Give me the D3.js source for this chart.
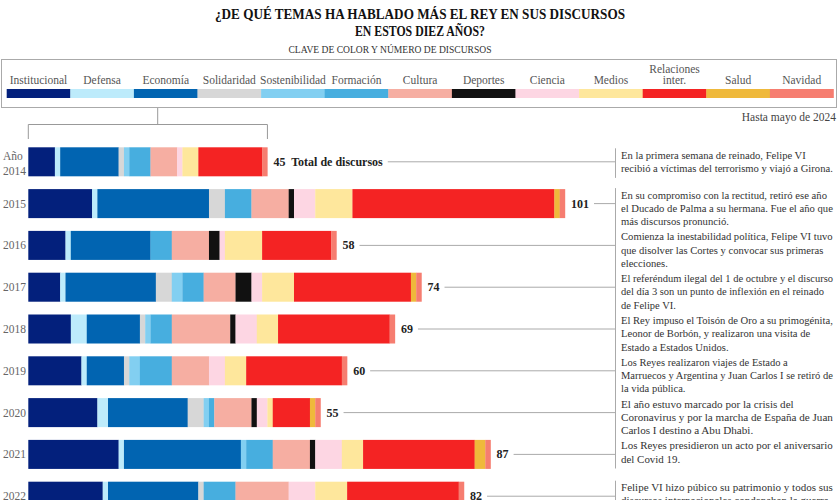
<!DOCTYPE html>
<html>
<head>
<meta charset="utf-8">
<script src="https://cdn.jsdelivr.net/npm/d3@7"></script>
<style>
  html, body { margin: 0; padding: 0; background: #fff; }
  svg { display: block; }
</style>
</head>
<body>
<svg id="chart" width="840" height="500"></svg>
<script>
// ---------- DATA ----------
const categories = ["Institucional","Defensa","Economía","Solidaridad","Sostenibilidad","Formación","Cultura","Deportes","Ciencia","Medios","Relaciones inter.","Salud","Navidad"];
const colors = ["#03207c","#bdebfb","#0164b1","#d7d7d7","#82cff1","#47aedf","#f6aea2","#111111","#fdd6e3","#fee79c","#f42323","#efb93b","#f67d70"];
const years = ["2014","2015","2016","2017","2018","2019","2020","2021","2022"];
const values2014 = [5,1,11,1,1,4,5,0,1,3,12,0,1];
const values2015 = [12,1,21,3,0,5,7,1,4,7,38,1,1];
const values2016 = [7,1,15,0,0,4,7,2,1,7,13,0,1];
const values2017 = [6,1,17,3,2,4,6,3,2,6,22,1,1];
const values2018 = [8,3,10,1,1,4,11,1,4,4,21,0,1];
const values2019 = [10,1,7,1,2,6,7,0,3,4,18,0,1];
const values2020 = [13,2,15,3,1,1,7,1,2,1,7,1,1];
const values2021 = [17,1,22,0,1,5,7,1,5,4,21,2,1];
const values2022 = [14,1,17,1,0,6,10,0,5,6,21,0,1];
const seriesValues = [values2014,values2015,values2016,values2017,values2018,values2019,values2020,values2021,values2022];
const notes = [
  ["En la primera semana de reinado, Felipe VI","recibió a víctimas del terrorismo y viajó a Girona."],
  ["En su compromiso con la rectitud, retiró ese año","el Ducado de Palma a su hermana. Fue el año que","más discursos pronunció."],
  ["Comienza la inestabilidad política, Felipe VI tuvo","que disolver las Cortes y convocar sus primeras","elecciones."],
  ["El referéndum ilegal del 1 de octubre y el discurso","del día 3 son un punto de inflexión en el reinado","de Felipe VI."],
  ["El Rey impuso el Toisón de Oro a su primogénita,","Leonor de Borbón, y realizaron una visita de","Estado a Estados Unidos."],
  ["Los Reyes realizaron viajes de Estado a","Marruecos y Argentina y Juan Carlos I se retiró de","la vida pública."],
  ["El año estuvo marcado por la crisis del","Coronavirus y por la marcha de España de Juan","Carlos I destino a Abu Dhabi."],
  ["Los Reyes presidieron un acto por el aniversario","del Covid 19."],
  ["Felipe VI hizo púbico su patrimonio y todos sus","discursos internacionales condenaban la guerra","de Ucrania."]
];
const titleLines = ["¿DE QUÉ TEMAS HA HABLADO MÁS EL REY EN SUS DISCURSOS","EN ESTOS DIEZ AÑOS?"];
const subtitle = "CLAVE DE COLOR Y NÚMERO DE DISCURSOS";
const dateNote = "Hasta mayo de 2024";

// ---------- BUILD ----------
const rows = years.map((y, i) => {
  let acc = 0;
  const segs = seriesValues[i].map((v, j) => {
    const s = {cat: categories[j], color: colors[j], x0: acc, x1: acc + v};
    acc += v;
    return s;
  }).filter(s => s.x1 > s.x0);
  return {year: y, segs, total: acc, note: notes[i]};
});

const svg = d3.select("#chart");
const serif = "'Liberation Serif', 'DejaVu Serif', serif";

// Title
svg.selectAll("text.title").data(titleLines).join("text")
  .attr("class", "title")
  .attr("x", 420).attr("y", (d, i) => 19 + i * 17)
  .attr("text-anchor", "middle")
  .attr("font-family", serif).attr("font-weight", "bold").attr("font-size", 15.5)
  .attr("fill", "#111")
  .attr("textLength", (d, i) => i === 0 ? 410 : 130)
  .attr("lengthAdjust", "spacingAndGlyphs")
  .text(d => d);

svg.append("text")
  .attr("x", 390).attr("y", 53).attr("text-anchor", "middle")
  .attr("font-family", serif).attr("font-size", 11).attr("fill", "#333")
  .attr("textLength", 203).attr("lengthAdjust", "spacingAndGlyphs")
  .text(subtitle);

// Legend
svg.append("rect").attr("x", 1.5).attr("y", 59.5).attr("width", 835).attr("height", 48)
  .attr("fill", "none").attr("stroke", "#aaa").attr("stroke-width", 1);

const lx = d3.scaleBand().domain(categories).range([6.7, 833.5]).padding(0);
const leg = svg.append("g");
leg.selectAll("rect").data(categories).join("rect")
  .attr("x", d => lx(d)).attr("y", 89).attr("width", lx.bandwidth() + 0.3).attr("height", 9)
  .attr("fill", (d, i) => colors[i]);
leg.selectAll("text").data(categories).join("text")
  .attr("x", d => lx(d) + lx.bandwidth() / 2)
  .attr("y", 84)
  .attr("text-anchor", "middle")
  .attr("font-family", serif).attr("font-size", 11.5).attr("fill", "#555")
  .each(function(d) {
    const parts = d === "Relaciones inter." ? ["Relaciones", "inter."] : [d];
    const t = d3.select(this);
    parts.forEach((p, k) => {
      t.append("tspan").attr("x", lx(d) + lx.bandwidth() / 2)
        .attr("dy", k === 0 ? (parts.length > 1 ? -11 : 0) : 11).text(p);
    });
  });

svg.append("text").attr("x", 836).attr("y", 121).attr("text-anchor", "end")
  .attr("font-family", serif).attr("font-size", 11.5).attr("fill", "#444")
  .text(dateNote);

// Scales
const x = d3.scaleLinear().domain([0, 101]).range([28.3, 565]);
const y = d3.scaleBand().domain(years).range([147.3, 147.3 + 41.8 * (years.length - 0.306)])
  .paddingInner(0.306).paddingOuter(0);

// Bracket
const br = svg.append("g").attr("stroke", "#999").attr("fill", "none").attr("stroke-width", 1);
br.append("path").attr("d",
  `M157.7,108 V124.5 M${x(0)},139 V124.5 H${x(rows[0].total)} V139`);

// Bars
const rowG = svg.selectAll("g.row").data(rows).join("g").attr("class", "row")
  .attr("transform", d => `translate(0,${y(d.year)})`);

rowG.selectAll("rect").data(d => d.segs).join("rect")
  .attr("x", d => x(d.x0)).attr("width", d => x(d.x1) - x(d.x0) + 0.2)
  .attr("y", 0).attr("height", y.bandwidth())
  .attr("fill", d => d.color);

// Year labels
rowG.append("text")
  .attr("x", 3).attr("font-family", serif).attr("font-size", 11.5).attr("fill", "#666")
  .each(function(d, i) {
    const t = d3.select(this);
    if (i === 0) {
      t.append("tspan").attr("x", 3).attr("y", y.bandwidth() / 2 - 2).text("Año");
      t.append("tspan").attr("x", 3).attr("y", y.bandwidth() / 2 + 13).text(d.year);
    } else {
      t.attr("y", y.bandwidth() / 2 + 4).text(d.year);
    }
  });

// Totals + connectors + notes
const noteX = 621, noteMaxW = 212;
rowG.each(function(d, i) {
  const g = d3.select(this);
  const cy = y.bandwidth() / 2;
  const tx = x(d.total) + 6;
  const label = g.append("text")
    .attr("x", tx).attr("y", cy + 4)
    .attr("font-family", serif).attr("font-weight", "bold").attr("font-size", 12).attr("fill", "#222")
    .attr("xml:space", "preserve")
    .text(i === 0 ? d.total + "  Total de discursos" : d.total);
  const w = label.node().getComputedTextLength();
  g.append("line").attr("x1", tx + w + 5).attr("x2", 615.5)
    .attr("y1", cy).attr("y2", cy).attr("stroke", "#aaa").attr("stroke-width", 1);
  const n = d.note.length;
  const top = i === 0 ? 1 : -1;
  g.append("line").attr("x1", 615.5).attr("x2", 615.5)
    .attr("y1", top).attr("y2", top + n * 13.3 + 3).attr("stroke", "#aaa").attr("stroke-width", 1);
  const txt = g.append("text").attr("font-family", serif).attr("font-size", 11.8).attr("fill", "#333");
  const tspans = txt.selectAll("tspan").data(d.note).join("tspan")
    .attr("x", noteX).attr("y", (l, k) => top + 10.5 + k * 13.3)
    .text(l => l);
  // shrink font of the whole note so its widest line fits
  let maxLen = 0;
  tspans.each(function() { maxLen = Math.max(maxLen, this.getComputedTextLength()); });
  if (maxLen > noteMaxW) txt.attr("font-size", 11.8 * noteMaxW / maxLen);
});
</script>
</body>
</html>
